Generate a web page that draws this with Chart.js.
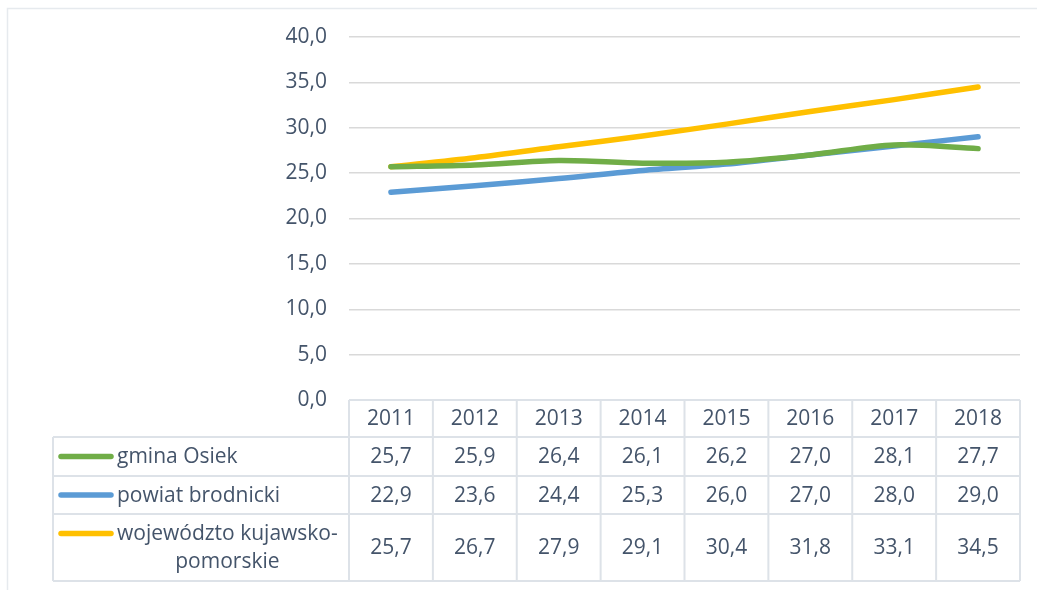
<!DOCTYPE html>
<html>
<head>
<meta charset="utf-8">
<script src="https://cdn.jsdelivr.net/npm/chart.js@4/dist/chart.umd.min.js"></script>
<style>
  html, body { margin: 0; padding: 0; background: #ffffff; }
  #wrap { width: 1037px; height: 590px; position: relative; }
</style>
</head>
<body>
<div id="wrap"><canvas id="c" width="1037" height="590"></canvas></div>
<script>
const categories = ['2011', '2012', '2013', '2014', '2015', '2016', '2017', '2018'];
const gminaOsiek = [25.7, 25.9, 26.4, 26.1, 26.2, 27.0, 28.1, 27.7];
const powiatBrodnicki = [22.9, 23.6, 24.4, 25.3, 26.0, 27.0, 28.0, 29.0];
const wojewodztwo = [25.7, 26.7, 27.9, 29.1, 30.4, 31.8, 33.1, 34.5];
const seriesNames = ['gmina Osiek', 'powiat brodnicki', 'wojew\u00f3dzto kujawsko-pomorskie'];
const seriesLabelLines = [['gmina Osiek'], ['powiat brodnicki'], ['wojew\u00f3dzto kujawsko-', 'pomorskie']];
const seriesColors = ['#70AD47', '#5B9BD5', '#FFC000'];
const yMin = 0, yMax = 40, yStep = 5;

const FONT = '"Open Sans", sans-serif';
const FSIZE = 21;
const TEXT = '#44546A';
const GRID = '#D9D9D9';
const TBL = '#DDE2E8';

const fmt = v => Number(v).toFixed(1).replace('.', ',');

const tablePlugin = {
  id: 'dataTable',
  afterDraw(chart) {
    const ctx = chart.ctx;
    const area = chart.chartArea;
    const xs = chart.scales.x;
    const n = categories.length;
    const colW = (area.right - area.left) / n;
    const tableLeft = 53;
    const rowH = [37, 39, 38, 67];
    const ys = [area.bottom];
    rowH.forEach(h => ys.push(ys[ys.length - 1] + h));
    const data = [gminaOsiek, powiatBrodnicki, wojewodztwo];

    ctx.save();
    // frame
    ctx.strokeStyle = '#E6EAEE';
    ctx.lineWidth = 1.5;
    ctx.beginPath();
    ctx.moveTo(7.5, 590); ctx.lineTo(7.5, 8.5); ctx.lineTo(1037, 8.5);
    ctx.stroke();

    ctx.strokeStyle = TBL;
    ctx.lineWidth = 2;
    ctx.beginPath();
    ctx.moveTo(area.left, ys[0]); ctx.lineTo(area.right, ys[0]);
    for (let r = 1; r < ys.length; r++) {
      ctx.moveTo(tableLeft, ys[r]); ctx.lineTo(area.right, ys[r]);
    }
    ctx.moveTo(tableLeft, ys[1]); ctx.lineTo(tableLeft, ys[4]);
    for (let i = 0; i <= n; i++) {
      const x = xs.getPixelForValue(0) - colW / 2 + i * colW;
      ctx.moveTo(x, ys[0]); ctx.lineTo(x, ys[4]);
    }
    ctx.stroke();

    ctx.fillStyle = TEXT;
    ctx.font = FSIZE + 'px ' + FONT;
    ctx.textAlign = 'center';
    ctx.textBaseline = 'middle';
    categories.forEach((c, i) => {
      ctx.fillText(c, xs.getPixelForValue(i), (ys[0] + ys[1]) / 2 + 1);
    });
    data.forEach((arr, r) => {
      const cy = (ys[r + 1] + ys[r + 2]) / 2 + 1;
      arr.forEach((v, i) => ctx.fillText(fmt(v), xs.getPixelForValue(i), cy));
    });

    seriesLabelLines.forEach((lines, r) => {
      const top = ys[r + 1], bot = ys[r + 2];
      const lineGap = 28;
      const firstY = (top + bot) / 2 - (lines.length - 1) * lineGap / 2;
      ctx.strokeStyle = seriesColors[r];
      ctx.lineWidth = 5.5;
      ctx.lineCap = 'round';
      ctx.beginPath();
      ctx.moveTo(61, firstY); ctx.lineTo(111, firstY);
      ctx.stroke();
      ctx.fillStyle = TEXT;
      const w0 = ctx.measureText(lines[0]).width;
      ctx.textAlign = 'left';
      ctx.fillText(lines[0], 117, firstY + 1);
      for (let k = 1; k < lines.length; k++) {
        ctx.textAlign = 'center';
        ctx.fillText(lines[k], 117 + w0 / 2, firstY + 1 + k * lineGap);
      }
    });
    ctx.restore();
  }
};

new Chart(document.getElementById('c'), {
  type: 'line',
  data: {
    labels: categories,
    datasets: [
      { label: seriesNames[0], data: gminaOsiek, borderColor: seriesColors[0] },
      { label: seriesNames[1], data: powiatBrodnicki, borderColor: seriesColors[1] },
      { label: seriesNames[2], data: wojewodztwo, borderColor: seriesColors[2] }
    ].map(d => Object.assign(d, {
      borderWidth: 5.5, pointRadius: 0, tension: 0.3, fill: false,
      borderCapStyle: 'round', borderJoinStyle: 'round', backgroundColor: d.borderColor
    }))
  },
  options: {
    responsive: false,
    animation: false,
    layout: { padding: { top: 37, bottom: 190, left: 0, right: 17 } },
    plugins: { legend: { display: false }, tooltip: { enabled: false } },
    scales: {
      x: { type: 'category', offset: true, display: false },
      y: {
        min: yMin, max: yMax,
        afterFit(s) { s.width = 349; },
        border: { display: false },
        grid: { color: GRID, lineWidth: 1.5, drawTicks: false },
        ticks: {
          stepSize: yStep, padding: 22, color: TEXT,
          font: { family: FONT, size: FSIZE },
          callback: v => fmt(v)
        }
      }
    }
  },
  plugins: [tablePlugin]
});
</script>
</body>
</html>
